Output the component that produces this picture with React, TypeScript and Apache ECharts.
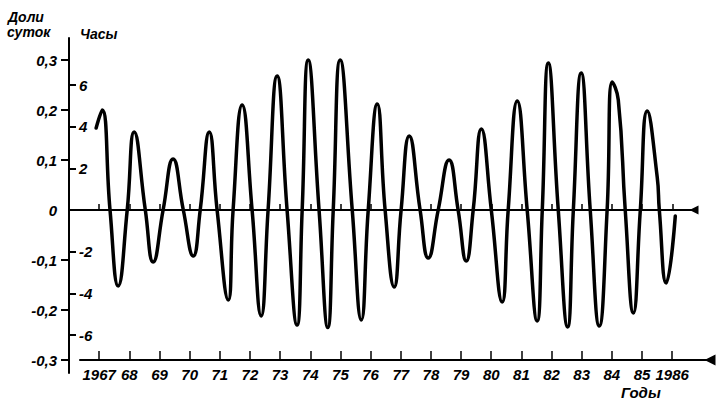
import React, { useEffect, useRef } from "react";
import * as echarts from "echarts";

// Curve readings: time in decimal years, value in fractions of a day
const curveYears = [
  1966.9, 1967.1, 1967.36, 1967.63, 1967.93, 1968.16, 1968.53, 1968.79, 1969.12, 1969.45,
  1969.79, 1970.12, 1970.35, 1970.65, 1970.91, 1971.28, 1971.44, 1971.74, 1972.07, 1972.37,
  1972.6, 1972.9, 1973.23, 1973.56, 1973.73, 1973.93, 1974.29, 1974.58, 1974.76, 1974.99,
  1975.39, 1975.69, 1975.92, 1976.22, 1976.48, 1976.78, 1977.01, 1977.28, 1977.64, 1977.91,
  1978.24, 1978.6, 1978.9, 1979.17, 1979.4, 1979.67, 1980.0, 1980.36, 1980.56, 1980.86,
  1981.19, 1981.52, 1981.69, 1981.89, 1982.22, 1982.53, 1982.72, 1982.98, 1983.28, 1983.58,
  1983.84, 1984.01, 1984.21, 1984.44, 1984.71, 1984.94, 1985.17, 1985.5, 1985.57, 1985.8,
  1986.1,
];
const curveValues = [
  0.164, 0.2, 0, -0.152, 0, 0.156, 0, -0.104, 0, 0.102,
  0, -0.092, 0, 0.156, 0, -0.18, 0, 0.21, 0, -0.212,
  0, 0.268, 0, -0.23, 0, 0.3, 0, -0.235, 0, 0.3,
  0, -0.22, 0, 0.212, 0, -0.154, 0, 0.148, 0, -0.096,
  0, 0.1, 0, -0.102, 0, 0.162, 0, -0.184, 0, 0.218,
  0, -0.222, 0, 0.294, 0, -0.234, 0, 0.274, 0, -0.232,
  0, 0.256, 0.22, 0, -0.206, 0, 0.198, 0.066, 0, -0.146,
  -0.012,
];

const dayTickValues = [-0.3, -0.2, -0.1, 0.1, 0.2, 0.3];
const dayLabelValues = [-0.3, -0.2, -0.1, 0, 0.1, 0.2, 0.3];
const hourTickValues = [-6, -4, -2, 2, 4, 6];
const yearTickValues = [
  1967, 1968, 1969, 1970, 1971, 1972, 1973, 1974, 1975, 1976,
  1977, 1978, 1979, 1980, 1981, 1982, 1983, 1984, 1985, 1986,
];

const FONT = "'Liberation Sans', 'DejaVu Sans', sans-serif";

export default function App() {
  const ref = useRef<HTMLDivElement>(null);

  useEffect(() => {
    if (!ref.current) return;
    const chart = echarts.init(ref.current, null, { renderer: "svg" });
    const labelStyle = {
      color: "#000",
      fontFamily: FONT,
      fontStyle: "italic" as const,
      fontWeight: "bold" as const,
      fontSize: 15,
    };
    const arrowLeft = "path://M0,0L10,0L5,10Z";

    chart.setOption({
      animation: false,
      backgroundColor: "#fff",
      grid: [
        { left: 69, top: 38, width: 625, height: 335 },
        { left: 80, top: 38, width: 630, height: 322 },
      ],
      xAxis: [
        {
          type: "value",
          gridIndex: 0,
          position: "bottom",
          min: 1966,
          max: 1986.72,
          axisLine: {
            show: true,
            onZero: true,
            lineStyle: { color: "#000", width: 2 },
            symbol: ["none", arrowLeft],
            symbolSize: [9, 9],
          },
          axisTick: {
            show: true,
            inside: true,
            length: 6,
            lineStyle: { color: "#000", width: 1.5 },
            customValues: yearTickValues,
          },
          axisLabel: { show: false },
          splitLine: { show: false },
        },
        {
          type: "value",
          gridIndex: 1,
          position: "bottom",
          min: 1966.365,
          max: 1987.254,
          axisLine: {
            show: true,
            onZero: false,
            lineStyle: { color: "#000", width: 2 },
            symbol: ["none", arrowLeft],
            symbolSize: [11, 12],
          },
          axisTick: {
            show: true,
            inside: true,
            length: 9,
            lineStyle: { color: "#000", width: 1.5 },
            customValues: yearTickValues,
          },
          axisLabel: {
            ...labelStyle,
            margin: 7,
            customValues: yearTickValues,
            formatter: (v: number) =>
              v === 1967 || v === 1986 ? String(v) : String(v).slice(2),
          },
          splitLine: { show: false },
        },
      ],
      yAxis: [
        {
          type: "value",
          gridIndex: 0,
          position: "left",
          min: -0.326,
          max: 0.344,
          axisLine: { show: true, lineStyle: { color: "#000", width: 2 } },
          axisTick: {
            show: true,
            inside: false,
            length: 8,
            lineStyle: { color: "#000", width: 2 },
            customValues: dayTickValues,
          },
          axisLabel: {
            ...labelStyle,
            margin: 12,
            customValues: dayLabelValues,
            formatter: (v: number) =>
              Math.abs(v) < 1e-9 ? "0" : v.toFixed(1).replace(".", ","),
          },
          splitLine: { show: false },
        },
        {
          type: "value",
          gridIndex: 0,
          position: "left",
          min: -7.824,
          max: 8.256,
          axisLine: { show: false },
          axisTick: {
            show: true,
            inside: true,
            length: 7,
            lineStyle: { color: "#000", width: 2 },
            customValues: hourTickValues,
          },
          axisLabel: {
            ...labelStyle,
            inside: true,
            margin: 10,
            customValues: hourTickValues,
          },
          splitLine: { show: false },
        },
        {
          type: "value",
          gridIndex: 1,
          show: false,
          min: 0,
          max: 1,
        },
      ],
      series: [
        {
          type: "line",
          xAxisIndex: 0,
          yAxisIndex: 0,
          data: curveYears.map((y, i) => [y, curveValues[i]]),
          smooth: 0.5,
          showSymbol: false,
          lineStyle: { color: "#000", width: 3.5, join: "round", cap: "round" },
          clip: false,
        },
      ],
      graphic: [
        {
          type: "text",
          left: 8,
          top: 10,
          style: {
            text: "Доли",
            font: `italic bold 14px ${FONT}`,
            fill: "#000",
          },
        },
        {
          type: "text",
          left: 7,
          top: 25,
          style: {
            text: "суток",
            font: `italic bold 14px ${FONT}`,
            fill: "#000",
          },
        },
        {
          type: "text",
          left: 80,
          top: 27,
          style: {
            text: "Часы",
            font: `italic bold 14px ${FONT}`,
            fill: "#000",
          },
        },
        {
          type: "text",
          left: 621,
          top: 385,
          style: {
            text: "Годы",
            font: `italic bold 15px ${FONT}`,
            fill: "#000",
          },
        },
      ],
    });
    return () => chart.dispose();
  }, []);

  return <div ref={ref} style={{ width: 716, height: 405, position: "absolute", left: 0, top: 0 }} />;
}
